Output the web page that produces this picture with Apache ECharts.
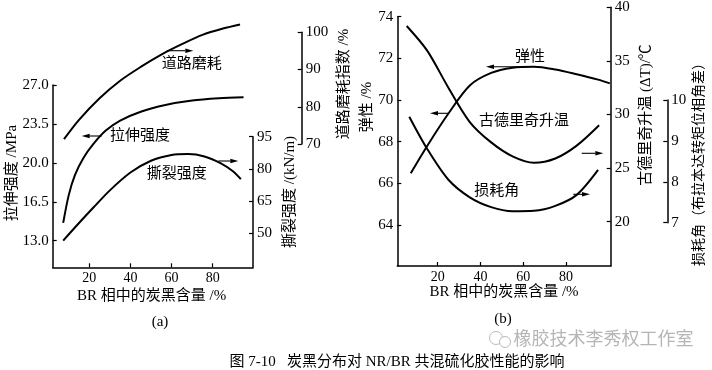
<!DOCTYPE html>
<html><head><meta charset="utf-8">
<script src="https://cdn.jsdelivr.net/npm/echarts@6/dist/echarts.min.js"></script>
<style>html,body{margin:0;padding:0;background:#fff}#c{width:712px;height:370px}</style>
</head><body><div id="c"></div>
<script>
// ---------- data ----------
const xTicks = [20, 40, 60, 80];
// panel (a)
const tensileTicks = [13.0, 16.5, 20.0, 23.5, 27.0];
const tearTicks = [50, 65, 80, 95];
const roadTicks = [70, 80, 90, 100];
const tensileX = [7.3, 10, 13, 17, 22, 28, 35, 45, 57, 70, 83, 95];
const tensileY = [14.6, 17.1, 18.9, 20.4, 21.7, 22.9, 23.8, 24.6, 25.2, 25.6, 25.8, 25.9];
const tearX = [7.3, 15, 22, 30, 40, 50, 60, 68, 76, 84, 90, 93.7];
const tearY = [46.6, 54.8, 62.0, 70.0, 78.3, 83.8, 86.5, 86.9, 85.8, 82.6, 78.8, 75.2];
const roadX = [7.7, 15, 25, 35, 45, 55, 65, 75, 85, 93.3];
const roadY = [71.3, 76.5, 82.3, 87.0, 90.7, 94.0, 96.8, 99.3, 101.0, 102.1];
// panel (b)
const elastTicks = [64, 66, 68, 70, 72, 74];
const goodTicks = [20, 25, 30, 35, 40];
const lossTicks = [7, 8, 9, 10];
const elastX = [7.4, 15, 25, 35, 45, 55, 65, 75, 85, 95, 100.5];
const elastY = [66.48, 67.78, 69.35, 70.7, 71.3, 71.55, 71.6, 71.47, 71.24, 70.98, 70.8];
const goodX = [5.5, 15, 25, 35, 45, 55, 65, 75, 85, 95.5];
const goodY = [38.26, 35.98, 32.5, 29.3, 27.4, 26.1, 25.5, 25.9, 27.1, 29.0];
const lossX = [6.7, 15, 25, 35, 45, 55, 65, 75, 85, 95];
const lossY = [9.59, 8.81, 8.05, 7.62, 7.38, 7.28, 7.29, 7.41, 7.68, 8.29];

// ---------- styles ----------
const NUM = "'Liberation Serif'";
const TXT = "'Liberation Serif','Noto Sans CJK SC'";
const pairs = (xs, ys) => xs.map((x, i) => [x, ys[i]]);

function yAx(grid, pos, min, max, ticks, opts) {
  opts = opts || {};
  return Object.assign({
    type: 'value', gridIndex: grid, position: pos, min: min, max: max,
    axisLine: { show: true, onZero: false, lineStyle: { color: '#000', width: 1.5 } },
    axisTick: { show: true, inside: true, length: 4, customValues: ticks, lineStyle: { color: '#000', width: 1.2 } },
    axisLabel: { customValues: ticks, color: '#000', fontFamily: NUM, fontSize: 15, margin: 4,
      formatter: opts.fmt || (v => String(v)) },
    splitLine: { show: false }
  }, opts.extra || {});
}
function xAx(grid, show, min, max) {
  return {
    type: 'value', gridIndex: grid, show: show, min: min, max: max,
    axisLine: { show: true, onZero: false, lineStyle: { color: '#000', width: 1.5 } },
    axisTick: { show: true, inside: true, length: 4, customValues: xTicks, lineStyle: { color: '#000', width: 1.2 } },
    axisLabel: { customValues: xTicks, color: '#000', fontFamily: NUM, fontSize: 14, margin: 4 },
    splitLine: { show: false }
  };
}
function ser(name, xi, yi, xs, ys) {
  return { name: name, type: 'line', xAxisIndex: xi, yAxisIndex: yi, data: pairs(xs, ys),
    smooth: 0.3, symbol: 'none', clip: false,
    lineStyle: { color: '#000', width: 2 } };
}
function arrow(x1, y1, x2, y2) {
  const a = Math.atan2(y2 - y1, x2 - x1), L = 8, W = 2.2;
  const bx = x2 - L * Math.cos(a), by = y2 - L * Math.sin(a);
  const px = -Math.sin(a) * W, py = Math.cos(a) * W;
  return [
    { type: 'line', shape: { x1: x1, y1: y1, x2: bx, y2: by }, style: { stroke: '#000', lineWidth: 1.1 } },
    { type: 'polygon', shape: { points: [[x2, y2], [bx + px, by + py], [bx - px, by - py]] }, style: { fill: '#000' } }
  ];
}
function label(text, x, y, size, rot, color) {
  return { type: 'text', x: x, y: y, rotation: rot || 0,
    style: { text: text, fill: color || '#000', font: (size || 15) + 'px ' + TXT, align: 'center', verticalAlign: 'middle' } };
}
const R = Math.PI / 2;

const grids = [
  { left: 52.7, top: 85, width: 200.3, height: 182.3 },     // tensile
  { left: 52.7, top: 136.7, width: 200.3, height: 130.6 },  // tear
  { left: 52.7, top: 32.3, width: 200.3, height: 111.7 },   // road wear
  { left: 397.3, top: 16.7, width: 213.4, height: 249.3 },  // elasticity
  { left: 397.3, top: 7.3, width: 213.4, height: 258.7 },   // goodrich
  { left: 397.3, top: 100, width: 213.4, height: 122.7 }    // loss angle
].map(g => Object.assign({ outerBoundsMode: 'none', containLabel: false }, g));

const option = {
  animation: false,
  backgroundColor: '#fff',
  grid: grids,
  xAxis: [
    xAx(0, true, 2.2, 99.6), xAx(1, false, 2.2, 99.6), xAx(2, false, 2.2, 99.6),
    xAx(3, true, 1.1, 100.9), xAx(4, false, 1.1, 100.9), xAx(5, false, 1.1, 100.9)
  ],
  yAxis: [
    yAx(0, 'left', 10.61, 27.0, tensileTicks, { fmt: v => v.toFixed(1) }),
    yAx(1, 'right', 34.16, 95, tearTicks),
    yAx(2, 'right', 70, 100, roadTicks, { extra: { offset: 48.7 } }),
    yAx(3, 'left', 62.03, 74, elastTicks),
    yAx(4, 'right', 15.87, 40, goodTicks),
    yAx(5, 'right', 7, 10, lossTicks, { extra: { offset: 56.6 } })
  ],
  series: [
    ser('拉伸强度', 0, 0, tensileX, tensileY),
    ser('撕裂强度', 1, 1, tearX, tearY),
    ser('道路磨耗', 2, 2, roadX, roadY),
    ser('弹性', 3, 3, elastX, elastY),
    ser('古德里奇升温', 4, 4, goodX, goodY),
    ser('损耗角', 5, 5, lossX, lossY)
  ],
  graphic: [].concat(
    // panel (a) curve labels
    label('道路磨耗', 191.7, 64, 15), arrow(166.7, 50.7, 193.3, 50.7),
    label('拉伸强度', 140, 136.5, 15), arrow(101.7, 136, 81.7, 136),
    label('撕裂强度', 176.7, 174, 15), arrow(218.3, 161, 238.3, 161),
    // panel (a) axis titles
    label('拉伸强度 /MPa', 12, 173, 15, R),
    label('撕裂强度 /(kN/m)', 290, 192, 15, R),
    label('道路磨耗指数 /%', 344, 84, 15, R),
    label('BR 相中的炭黑含量 /%', 151.7, 295.7, 15),
    label('(a)', 160, 322, 15),
    // panel (b) curve labels
    label('弹性', 530, 56.7, 15), arrow(526.7, 66.7, 486, 66.7),
    label('古德里奇升温', 524, 121.5, 15), arrow(448.3, 113.3, 430, 113.3),
    arrow(581.7, 153.3, 603.3, 153.3),
    label('损耗角', 496.7, 191, 15), arrow(573.3, 194.3, 590, 194.3),
    // panel (b) axis titles
    label('弹性 /%', 367.5, 107, 15, R),
    label('古德里奇升温 (ΔT)/℃', 646, 115, 15, R),
    label('损耗角（布拉本达转矩位相角差）', 699, 161, 14, R),
    label('BR 相中的炭黑含量 /%', 504, 292.5, 15),
    label('(b)', 503, 319, 15),
    // watermark
    [{ type: 'circle', shape: { cx: 496, cy: 338, r: 6.5 }, style: { fill: 'none', stroke: '#bbb', lineWidth: 1 } },
     { type: 'circle', shape: { cx: 505, cy: 342, r: 5.5 }, style: { fill: '#fff', stroke: '#bbb', lineWidth: 1 } }],
    label('橡胶技术李秀权工作室', 603.5, 340, 18, 0, '#b5b5b5'),
    // caption
    label('图 7-10   炭黑分布对 NR/BR 共混硫化胶性能的影响', 397, 362, 15)
  )
};
const chart = echarts.init(document.getElementById('c'), null, { renderer: 'canvas' });
chart.setOption(option);
</script></body></html>
